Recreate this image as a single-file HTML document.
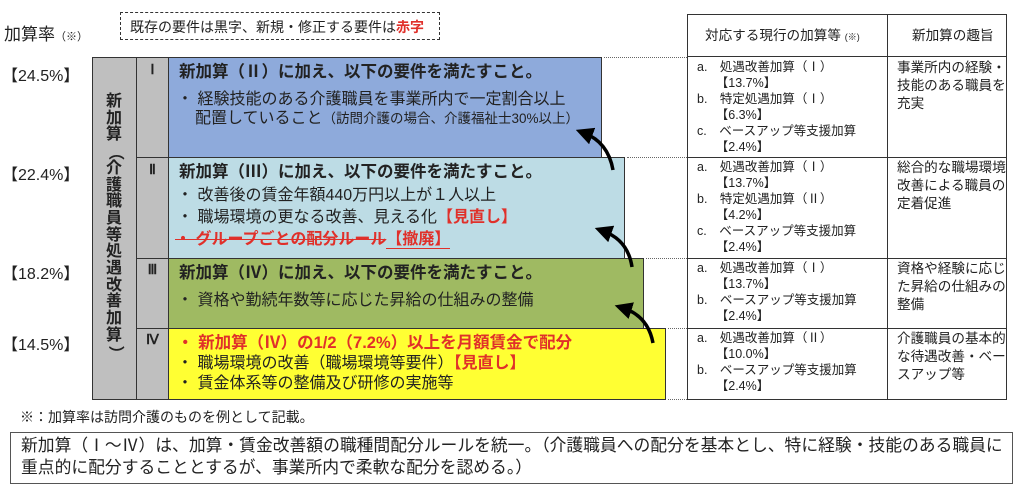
<!DOCTYPE html>
<html><head><meta charset="utf-8"><style>
*{margin:0;padding:0;box-sizing:border-box}
body{width:1024px;height:490px;background:#fff;position:relative;font-family:"Liberation Sans","Noto Sans CJK JP",sans-serif;color:#222;overflow:hidden}
.a{position:absolute}
.box{position:absolute;border:1.5px solid #333}
.t{font-weight:bold;font-size:16.5px;position:absolute;left:10px;top:3px;white-space:nowrap;line-height:22px}
.b{font-size:16px;position:absolute;left:8px;white-space:nowrap;line-height:22px}
.red{color:#e0302a;font-weight:bold}
.pct{position:absolute;left:2px;font-size:16px}
.cell{position:absolute;font-size:12.5px;line-height:16px;white-space:nowrap}
.c2{position:absolute;font-size:13.6px;line-height:18px;white-space:nowrap}
.dot{position:absolute;border-top:1.5px dotted #666;height:0}
.rn{position:absolute;left:136px;width:33px;text-align:center;font-weight:bold;font-size:14px;font-family:'Liberation Serif',serif}
</style></head><body>
<div class="a" style="left:4px;top:20px;font-size:17px">加算率<span style="font-size:11px">（※）</span></div>
<div class="a" style="left:120px;top:12px;width:320px;height:28px;border:1px dashed #333;font-size:14px;padding:4px 0 0 9px;white-space:nowrap">既存の要件は黒字、新規・修正する要件は<span class="red">赤字</span></div>
<div class="pct" style="top:62px">【24.5%】</div>
<div class="pct" style="top:161px">【22.4%】</div>
<div class="pct" style="top:260px">【18.2%】</div>
<div class="pct" style="top:331px">【14.5%】</div>

<div class="box" style="left:92px;top:57px;width:45px;height:343px;background:#bfbfbf"></div>
<div class="a" style="left:103px;top:94px;width:22px;font-size:16px;font-weight:bold;line-height:16.7px;text-align:center">新<br>加<br>算<br><span style="display:inline-block;transform:rotate(90deg)">（</span><br>介<br>護<br>職<br>員<br>等<br>処<br>遇<br>改<br>善<br>加<br>算<br><span style="display:inline-block;transform:rotate(90deg)">）</span></div>
<div class="box" style="left:136px;top:57px;width:33px;height:343px;background:#bfbfbf"></div>
<div class="rn" style="top:62px">Ⅰ</div>
<div class="rn" style="top:162px">Ⅱ</div>
<div class="rn" style="top:262px">Ⅲ</div>
<div class="rn" style="top:332px">Ⅳ</div>
<div class="box" style="left:136px;top:157px;width:33px;height:0;border-width:1.5px 0 0 0"></div>
<div class="box" style="left:136px;top:258px;width:33px;height:0;border-width:1.5px 0 0 0"></div>
<div class="box" style="left:136px;top:328px;width:33px;height:0;border-width:1.5px 0 0 0"></div>

<div class="box" style="left:168px;top:57px;width:434px;height:101px;background:#8eaadb">
<div class="t">新加算（Ⅱ）に加え、以下の要件を満たすこと。</div>
<div class="b" style="top:31px">・ 経験技能のある介護職員を事業所内で一定割合以上</div>
<div class="b" style="top:50px;left:26px">配置していること<span style="font-size:13.5px">（訪問介護の場合、介護福祉士30%以上）</span></div>
</div>
<div class="box" style="left:168px;top:157px;width:457px;height:102px;background:#bddce5">
<div class="t">新加算（Ⅲ）に加え、以下の要件を満たすこと。</div>
<div class="b" style="top:27px">・ 改善後の賃金年額440万円以上が１人以上</div>
<div class="b" style="top:49px">・ 職場環境の更なる改善、見える化<span class="red">【見直し】</span></div>
<div class="b red" style="top:71px;left:6px;font-weight:bold"><s>・ グループごとの配分ルール</s><span style="border-bottom:1px solid #e0302a">【撤廃】</span></div>
</div>
<div class="box" style="left:168px;top:258px;width:476px;height:71px;background:#9fba62">
<div class="t">新加算（Ⅳ）に加え、以下の要件を満たすこと。</div>
<div class="b" style="top:31px">・ 資格や勤続年数等に応じた昇給の仕組みの整備</div>
</div>
<div class="box" style="left:168px;top:328px;width:498px;height:72px;background:#ffff33">
<div class="b red" style="top:3px;font-size:16.5px">・ 新加算（Ⅳ）の1/2（7.2%）以上を月額賃金で配分</div>
<div class="b" style="top:24px">・ 職場環境の改善（職場環境等要件）<span class="red">【見直し】</span></div>
<div class="b" style="top:44px">・ 賃金体系等の整備及び研修の実施等</div>
</div>

<svg class="a" style="left:0;top:0" width="1024" height="490">
<defs><marker id="ar" viewBox="0 0 10 10" refX="5" refY="5" markerWidth="5" markerHeight="5" orient="auto"><path d="M0,0L10,5L0,10z" fill="#000"/></marker></defs>
<g stroke="#000" stroke-width="3.5" fill="none" marker-end="url(#ar)">
<path d="M613,170 Q608,142 584,133"/>
<path d="M632,267 Q628,240 603,231"/>
<path d="M653,343 Q648,316 623,308"/>
</g></svg>

<div class="dot" style="left:604px;top:57px;width:83px"></div>
<div class="dot" style="left:627px;top:157px;width:60px"></div>
<div class="dot" style="left:646px;top:258px;width:41px"></div>
<div class="dot" style="left:668px;top:328px;width:19px"></div>
<div class="dot" style="left:668px;top:399px;width:19px"></div>

<div class="box" style="left:687px;top:14px;width:320px;height:386px"></div>
<div class="box" style="left:887px;top:14px;width:0;height:386px;border-width:0 0 0 1.5px"></div>
<div class="box" style="left:687px;top:56px;width:320px;height:0;border-width:1.5px 0 0 0"></div>
<div class="box" style="left:687px;top:157px;width:320px;height:0;border-width:1.5px 0 0 0"></div>
<div class="box" style="left:687px;top:258px;width:320px;height:0;border-width:1.5px 0 0 0"></div>
<div class="box" style="left:687px;top:328px;width:320px;height:0;border-width:1.5px 0 0 0"></div>
<div class="c2" style="left:705px;top:27px">対応する現行の加算等 <span style="font-size:9px">(※)</span></div>
<div class="c2" style="left:912px;top:27px">新加算の趣旨</div>
<div class="cell" style="left:697px;top:59px">a.　処遇改善加算（Ⅰ）<br>　　【13.7%】<br>b.　特定処遇加算（Ⅰ）<br>　　【6.3%】<br>c.　ベースアップ等支援加算<br>　　【2.4%】</div>
<div class="cell" style="left:697px;top:159px">a.　処遇改善加算（Ⅰ）<br>　　【13.7%】<br>b.　特定処遇加算（Ⅱ）<br>　　【4.2%】<br>c.　ベースアップ等支援加算<br>　　【2.4%】</div>
<div class="cell" style="left:697px;top:260px">a.　処遇改善加算（Ⅰ）<br>　　【13.7%】<br>b.　ベースアップ等支援加算<br>　　【2.4%】</div>
<div class="cell" style="left:697px;top:330px">a.　処遇改善加算（Ⅱ）<br>　　【10.0%】<br>b.　ベースアップ等支援加算<br>　　【2.4%】</div>
<div class="c2" style="left:897px;top:59px">事業所内の経験・<br>技能のある職員を<br>充実</div>
<div class="c2" style="left:897px;top:159px">総合的な職場環境<br>改善による職員の<br>定着促進</div>
<div class="c2" style="left:897px;top:260px">資格や経験に応じ<br>た昇給の仕組みの<br>整備</div>
<div class="c2" style="left:897px;top:330px">介護職員の基本的<br>な待遇改善・ベー<br>スアップ等</div>

<div class="a" style="left:20px;top:407px;font-size:14px">※：加算率は訪問介護のものを例として記載。</div>
<div class="a" style="left:10px;top:432px;width:1003px;height:52px;border:1.5px solid #555;font-size:16.8px;line-height:22px;padding:2px 0 0 10px;white-space:nowrap">新加算（Ⅰ～Ⅳ）は、加算・賃金改善額の職種間配分ルールを統一。（介護職員への配分を基本とし、特に経験・技能のある職員に<br>重点的に配分することとするが、事業所内で柔軟な配分を認める。）</div>
</body></html>
